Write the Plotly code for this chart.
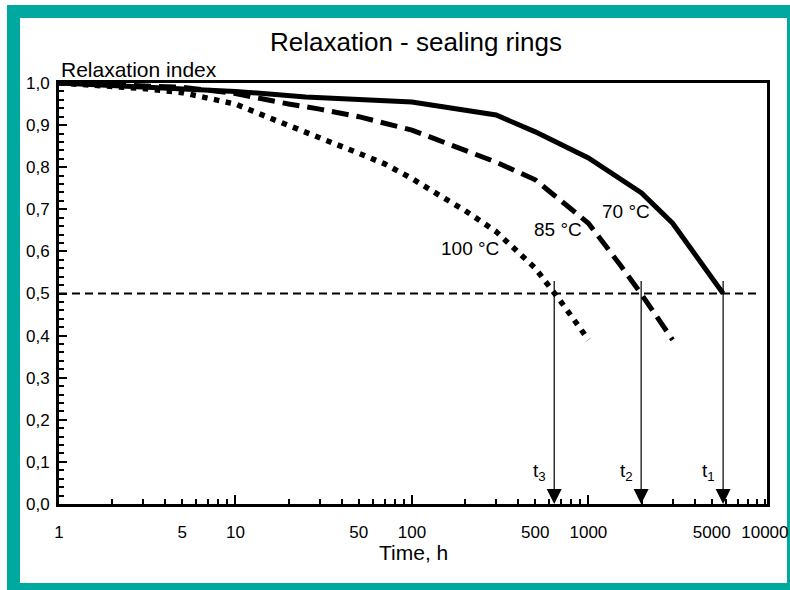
import numpy as np
import plotly.graph_objects as go

# ---------------- data ----------------
t_70 = [1, 10, 25, 100, 300, 500, 1000, 2000, 3000, 5800]
r_70 = [1.0, 0.98, 0.967, 0.955, 0.924, 0.884, 0.822, 0.739, 0.667, 0.50]

t_85 = [1, 5, 10, 15, 20, 30, 50, 100, 200, 300, 500, 700, 1000, 1500, 2000, 3000]
r_85 = [1.0, 0.99, 0.975, 0.96, 0.95, 0.938, 0.92, 0.888, 0.842, 0.812, 0.77, 0.72, 0.667, 0.57, 0.498, 0.39]

t_100 = [1, 2, 3, 5, 7, 10, 15, 20, 30, 50, 70, 100, 150, 200, 300, 500, 700, 1000]
r_100 = [1.0, 0.992, 0.987, 0.977, 0.965, 0.95, 0.92, 0.9, 0.87, 0.833, 0.808, 0.773, 0.728, 0.697, 0.647, 0.56, 0.48, 0.39]

ref_level = 0.5
ref_t = [1, 9100]

t_half = [5800, 1990, 640]           # t1, t2, t3
t_half_names = ["t<sub>1</sub>", "t<sub>2</sub>", "t<sub>3</sub>"]
arrow_top = 0.533
t_label_level = 0.076

curve_names = ["70 °C", "85 °C", "100 °C"]
curve_label_t = [1630, 671, 212]
curve_label_r = [0.694, 0.651, 0.606]

x_tick_vals = [1, 5, 10, 50, 100, 500, 1000, 5000, 10000]
x_tick_text = ["1", "5", "10", "50", "100", "500", "1000", "5000", "10000"]
x_minor_vals = [m * d for d in [1, 10, 100, 1000] for m in [2, 3, 4, 6, 7, 8, 9]]
x_decade_vals = [10, 100, 1000]

title_text = "Relaxation - sealing rings"
y_title = "Relaxation index"
x_title = "Time, h"

# ---------------- figure ----------------
FONT = "Liberation Sans, Arial, Helvetica, sans-serif"
TEAL = "#00A99F"
W, H = 790, 590
ML, MR, MT, MB = 59, 23, 83, 86
PW, PH = W - ML - MR, H - MT - MB


def px_x(p):
    return (p - ML) / PW


def px_y(p):
    return (H - MB - p) / PH


fig = go.Figure()

fig.add_trace(go.Scatter(x=ref_t, y=[ref_level, ref_level], mode="lines",
                         line=dict(color="black", width=2, dash="8px,5px"),
                         hoverinfo="skip"))
fig.add_trace(go.Scatter(x=t_100, y=r_100, mode="lines", name=curve_names[2],
                         line=dict(color="black", width=5.5, dash="5.5px,6.5px")))
fig.add_trace(go.Scatter(x=t_85, y=r_85, mode="lines", name=curve_names[1],
                         line=dict(color="black", width=5, dash="17px,8px")))
fig.add_trace(go.Scatter(x=t_70, y=r_70, mode="lines", name=curve_names[0],
                         line=dict(color="black", width=5)))

annotations = []
for t, name in zip(t_half, t_half_names):
    lx = float(np.log10(t))
    annotations.append(dict(x=lx, y=0, ax=lx, ay=arrow_top, xref="x", yref="y",
                            axref="x", ayref="y", text="", showarrow=True,
                            arrowhead=2, arrowsize=2.5, arrowwidth=1.2,
                            arrowcolor="black", standoff=0))
    annotations.append(dict(x=lx, y=t_label_level, xref="x", yref="y", text=name,
                            showarrow=False, xanchor="right", yanchor="middle",
                            xshift=-6, font=dict(family=FONT, size=19, color="black")))

for name, t, r in zip(curve_names, curve_label_t, curve_label_r):
    annotations.append(dict(x=float(np.log10(t)), y=r, xref="x", yref="y", text=name,
                            showarrow=False, xanchor="center", yanchor="middle",
                            font=dict(family=FONT, size=19, color="black")))

annotations.append(dict(x=px_x(59), y=px_y(70), xref="paper", yref="paper", text=y_title,
                        showarrow=False, xanchor="left", yanchor="middle",
                        font=dict(family=FONT, size=21, color="black")))
annotations.append(dict(x=px_x(414), y=px_y(552), xref="paper", yref="paper", text=x_title,
                        showarrow=False, xanchor="center", yanchor="middle",
                        font=dict(family=FONT, size=21, color="black")))

shapes = []
for (x0, y0, x1, y1) in [(7, 5, 20, 590), (7, 5, 790, 18), (7, 583, 790, 590), (787, 5, 790, 590)]:
    shapes.append(dict(type="rect", xref="paper", yref="paper",
                       x0=px_x(x0), x1=px_x(x1), y0=px_y(y1), y1=px_y(y0),
                       fillcolor=TEAL, line=dict(width=0), layer="below"))

xrange = [0, 4.012]

fig.update_layout(
    width=W, height=H, autosize=False,
    margin=dict(l=ML, r=MR, t=MT, b=MB, pad=0, autoexpand=False),
    paper_bgcolor="white", plot_bgcolor="white",
    showlegend=False,
    separators=",.",
    font=dict(family=FONT, size=17, color="black"),
    title=dict(text=title_text, x=416 / W, xanchor="center", y=1 - 42 / H, yanchor="middle",
               xref="container", yref="container", font=dict(family=FONT, size=26, color="black")),
    xaxis=dict(type="log", range=xrange, tickmode="array", tickvals=x_tick_vals,
               ticktext=x_tick_text, ticks="inside", ticklen=5, tickwidth=1.5,
               tickcolor="black", showline=True, linewidth=3, linecolor="black",
               mirror=True, showgrid=False, zeroline=False, automargin=False,
               tickfont=dict(family=FONT, size=17), ticklabelstandoff=11,
               minor=dict(tickmode="array", tickvals=x_minor_vals, ticks="inside",
                          ticklen=5, tickwidth=1.5, tickcolor="black", showgrid=False)),
    xaxis2=dict(type="log", range=xrange, overlaying="x", anchor="y", side="bottom",
                tickmode="array", tickvals=x_decade_vals, ticks="inside", ticklen=9,
                tickwidth=1.5, tickcolor="black", showticklabels=False, automargin=False,
                showline=False, showgrid=False, zeroline=False),
    yaxis=dict(range=[0, 1.0], tickmode="linear", tick0=0, dtick=0.1, tickformat=".1f",
               ticks="inside", ticklen=8, tickwidth=1.5, tickcolor="black",
               showline=True, linewidth=3, linecolor="black", mirror=True,
               showgrid=False, zeroline=False, tickfont=dict(family=FONT, size=17),
               ticklabelstandoff=3, automargin=False,
               minor=dict(dtick=0.02, ticks="inside", ticklen=5, tickwidth=1.5,
                          tickcolor="black", showgrid=False)),
    annotations=annotations,
    shapes=shapes,
)

# invisible trace to activate xaxis2
fig.add_trace(go.Scatter(x=[1], y=[0], xaxis="x2", mode="markers",
                         marker=dict(opacity=0), hoverinfo="skip"))

fig.write_html("out.html", config={"displayModeBar": False},
               post_script="document.body.style.margin='0';")
